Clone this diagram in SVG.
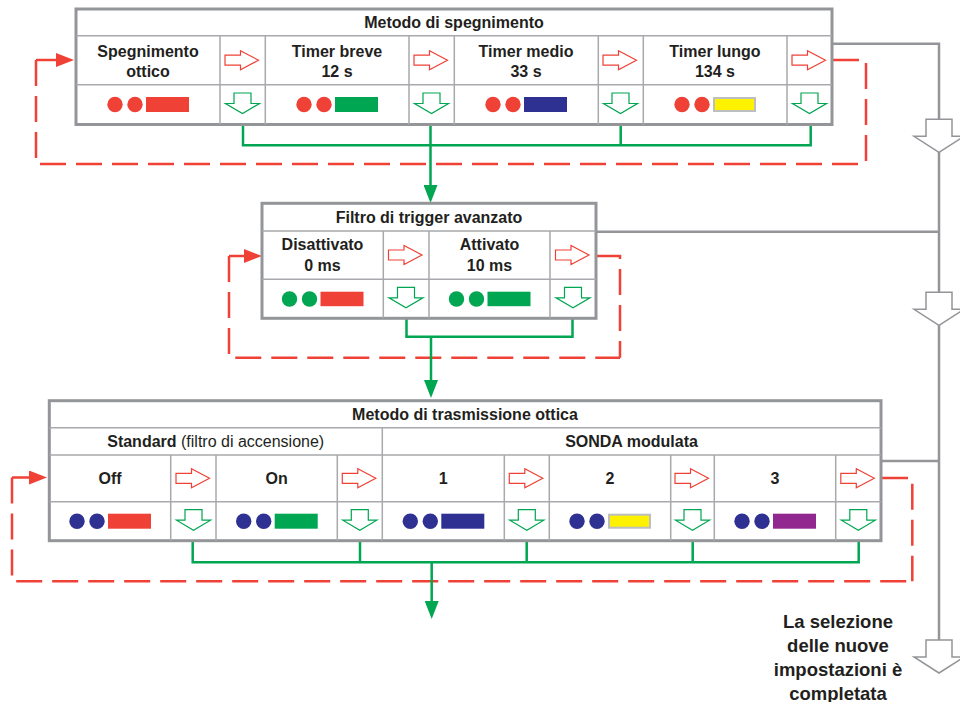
<svg xmlns="http://www.w3.org/2000/svg" width="960" height="702" viewBox="0 0 960 702">
<defs>
<marker id="ah-red" markerUnits="userSpaceOnUse" markerWidth="18" markerHeight="14" refX="4" refY="7" orient="auto"><path d="M0,0 L18,7 L0,14 Z" fill="#ef4136"/></marker>
<marker id="ah-green" markerUnits="userSpaceOnUse" markerWidth="18" markerHeight="14" refX="4" refY="7" orient="auto"><path d="M0,0 L18,7 L0,14 Z" fill="#00a651"/></marker>
<path id="ra" d="M-17.5,-5 H-2 V-9.5 L16,0 L-2,9.5 V5 H-17.5 Z"/>
<path id="da" d="M-8.5,-11.5 H8.5 V-1 H17 L0,9 L-17,-1 H-8.5 Z"/>
<path id="ga" d="M-13,0 H13 V17 H25 L0,33 L-25,17 H-13 Z"/>
</defs>
<style>
.frame{fill:#fff;stroke:#939598;stroke-width:3}
.grid{stroke:#a7a9ac;stroke-width:1.5;fill:none}
.t{font-family:"Liberation Sans",Arial,Helvetica,sans-serif;font-weight:bold;font-size:16px;fill:#231f20;text-anchor:middle}
.n{font-weight:normal}
.big{font-size:18.5px}
.rarr{fill:#fff;stroke:#ef4136;stroke-width:1.2}
.darr{fill:#fff;stroke:#00a651;stroke-width:1.2}
.garr{fill:#fff;stroke:#939598;stroke-width:1.5}
.gline{stroke:#939598;stroke-width:2.5;fill:none}
.green{stroke:#00a651;stroke-width:2.5;fill:none}
.red{stroke:#ef4136;stroke-width:2.5;fill:none}
.dash{stroke-dasharray:26 10}
.cr{fill:#ef4136}.cg{fill:#00a651}.cb{fill:#2e3192}.cp{fill:#92278f}
.cy{fill:#fff200;stroke:#bcbec0;stroke-width:2}
</style>

<!-- Connectors -->
<g id="connectors">
  <!-- gray completion path -->
  <path class="gline" d="M832,43.7 H939 V640"/>
  <path class="gline" d="M596,231.7 H939"/>
  <path class="gline" d="M881,461 H939"/>
  <use href="#ga" class="garr" x="939" y="119.3"/>
  <use href="#ga" class="garr" x="939" y="292.3"/>
  <use href="#ga" class="garr" x="939" y="640"/>
  <!-- top table loops -->
  <path class="red" d="M36,60 H60" marker-end="url(#ah-red)"/>
  <path class="red dash" d="M36,60 V164 H866"/>
  <path class="red dash" d="M833,60 H866 V164"/>
  <path class="green" d="M243,124.5 V145.3 H810.7 V124.5 M620.7,124.5 V145.3"/>
  <path class="green" d="M430.5,124.5 V189" marker-end="url(#ah-green)"/>
  <!-- filter loops -->
  <path class="red" d="M229,256 H248" marker-end="url(#ah-red)"/>
  <path class="red dash" d="M229,256 V357.7 H620"/>
  <path class="red dash" d="M597,256 H620 V357.7"/>
  <path class="green" d="M406.5,318.3 V336.7 H572.5 V318.3"/>
  <path class="green" d="M431,336.7 V384" marker-end="url(#ah-green)"/>
  <!-- bottom table loops -->
  <path class="red" d="M12,477.5 H33" marker-end="url(#ah-red)"/>
  <path class="red dash" d="M12,477.5 V581.3 H912.3"/>
  <path class="red dash" d="M882,478 H912.3 V581.3"/>
  <path class="green" d="M192.7,540.7 V562.3 H858.7 V540.7 M360,540.7 V562.3 M526.7,540.7 V562.3 M692.7,540.7 V562.3"/>
  <path class="green" d="M431.7,562.3 V605" marker-end="url(#ah-green)"/>
</g>

<!-- Table 1 -->
<g id="metodo-spegnimento">
  <rect class="frame" x="76" y="9" width="756" height="115.5"/>
  <path class="grid" d="M76,35.7 H832 M76,84.7 H832 M220,35.7 V124.5 M265.3,35.7 V124.5 M409,35.7 V124.5 M454.3,35.7 V124.5 M598.3,35.7 V124.5 M643.3,35.7 V124.5 M787,35.7 V124.5"/>
  <text class="t" x="454" y="28.3">Metodo di spegnimento</text>
  <g id="spegnimento-ottico">
    <text class="t" x="148" y="56.7">Spegnimento</text>
    <text class="t" x="148" y="76.9">ottico</text>
    <circle class="cr" cx="115" cy="104.5" r="7.7"/><circle class="cr" cx="135" cy="104.5" r="7.7"/>
    <rect class="cr" x="146" y="97" width="43" height="15"/>
  </g>
  <g id="timer-breve">
    <text class="t" x="337" y="56.7">Timer breve</text>
    <text class="t" x="337" y="76.9">12 s</text>
    <circle class="cr" cx="304" cy="104.5" r="7.7"/><circle class="cr" cx="324" cy="104.5" r="7.7"/>
    <rect class="cg" x="335" y="97" width="43" height="15"/>
  </g>
  <g id="timer-medio">
    <text class="t" x="526" y="56.7">Timer medio</text>
    <text class="t" x="526" y="76.9">33 s</text>
    <circle class="cr" cx="493" cy="104.5" r="7.7"/><circle class="cr" cx="513" cy="104.5" r="7.7"/>
    <rect class="cb" x="524" y="97" width="43" height="15"/>
  </g>
  <g id="timer-lungo">
    <text class="t" x="715" y="56.7">Timer lungo</text>
    <text class="t" x="715" y="76.9">134 s</text>
    <circle class="cr" cx="682" cy="104.5" r="7.7"/><circle class="cr" cx="702" cy="104.5" r="7.7"/>
    <rect class="cy" x="714" y="98" width="41" height="13"/>
  </g>
  <use href="#ra" class="rarr" x="242.5" y="60.2"/>
  <use href="#ra" class="rarr" x="431.5" y="60.2"/>
  <use href="#ra" class="rarr" x="620.5" y="60.2"/>
  <use href="#ra" class="rarr" x="809.5" y="60.2"/>
  <use href="#da" class="darr" x="242.5" y="104.5"/>
  <use href="#da" class="darr" x="431.5" y="104.5"/>
  <use href="#da" class="darr" x="620.5" y="104.5"/>
  <use href="#da" class="darr" x="809.5" y="104.5"/>
</g>

<!-- Table 2 -->
<g id="filtro-trigger">
  <rect class="frame" x="262" y="203.3" width="334" height="115"/>
  <path class="grid" d="M262,231 H596 M262,279.3 H596 M383.3,231 V318.3 M429,231 V318.3 M550,231 V318.3"/>
  <text class="t" x="429" y="223.3">Filtro di trigger avanzato</text>
  <g id="disattivato">
    <text class="t" x="322.5" y="250">Disattivato</text>
    <text class="t" x="322.5" y="270.7">0 ms</text>
    <circle class="cg" cx="289.5" cy="299" r="7.7"/><circle class="cg" cx="309.5" cy="299" r="7.7"/>
    <rect class="cr" x="320.5" y="291.7" width="43" height="14.5"/>
  </g>
  <g id="attivato">
    <text class="t" x="489.5" y="250">Attivato</text>
    <text class="t" x="489.5" y="270.7">10 ms</text>
    <circle class="cg" cx="456.5" cy="299" r="7.7"/><circle class="cg" cx="476.5" cy="299" r="7.7"/>
    <rect class="cg" x="487.5" y="291.7" width="43" height="14.5"/>
  </g>
  <use href="#ra" class="rarr" x="406" y="255"/>
  <use href="#ra" class="rarr" x="573" y="255"/>
  <use href="#da" class="darr" x="406" y="298.8"/>
  <use href="#da" class="darr" x="573" y="298.8"/>
</g>

<!-- Table 3 -->
<g id="metodo-trasmissione">
  <rect class="frame" x="49.3" y="400.7" width="831.7" height="140"/>
  <path class="grid" d="M49.3,427.7 H881 M49.3,455 H881 M49.3,501.7 H881 M382.3,427.7 V540.7 M170.7,455 V540.7 M216,455 V540.7 M337.3,455 V540.7 M504.3,455 V540.7 M549.3,455 V540.7 M670.7,455 V540.7 M714.3,455 V540.7 M835.7,455 V540.7"/>
  <text class="t" x="465" y="420">Metodo di trasmissione ottica</text>
  <text class="t" x="215.7" y="447.3">Standard <tspan class="n">(filtro di accensione)</tspan></text>
  <text class="t" x="631.5" y="447.3">SONDA modulata</text>
  <g id="off">
    <text class="t" x="110" y="484">Off</text>
    <circle class="cb" cx="77" cy="521.2" r="7.7"/><circle class="cb" cx="97" cy="521.2" r="7.7"/>
    <rect class="cr" x="108" y="513.7" width="43" height="15"/>
  </g>
  <g id="on">
    <text class="t" x="276.7" y="484">On</text>
    <circle class="cb" cx="243.7" cy="521.2" r="7.7"/><circle class="cb" cx="263.7" cy="521.2" r="7.7"/>
    <rect class="cg" x="274.7" y="513.7" width="43" height="15"/>
  </g>
  <g id="sonda-1">
    <text class="t" x="443.3" y="484">1</text>
    <circle class="cb" cx="410.3" cy="521.2" r="7.7"/><circle class="cb" cx="430.3" cy="521.2" r="7.7"/>
    <rect class="cb" x="441.3" y="513.7" width="43" height="15"/>
  </g>
  <g id="sonda-2">
    <text class="t" x="610" y="484">2</text>
    <circle class="cb" cx="577" cy="521.2" r="7.7"/><circle class="cb" cx="597" cy="521.2" r="7.7"/>
    <rect class="cy" x="609" y="514.7" width="41" height="13"/>
  </g>
  <g id="sonda-3">
    <text class="t" x="775" y="484">3</text>
    <circle class="cb" cx="742" cy="521.2" r="7.7"/><circle class="cb" cx="762" cy="521.2" r="7.7"/>
    <rect class="cp" x="773" y="513.7" width="43" height="15"/>
  </g>
  <use href="#ra" class="rarr" x="193.5" y="478.3"/>
  <use href="#ra" class="rarr" x="359.8" y="478.3"/>
  <use href="#ra" class="rarr" x="526.8" y="478.3"/>
  <use href="#ra" class="rarr" x="692.5" y="478.3"/>
  <use href="#ra" class="rarr" x="858.3" y="478.3"/>
  <use href="#da" class="darr" x="193.5" y="521.2"/>
  <use href="#da" class="darr" x="359.8" y="521.2"/>
  <use href="#da" class="darr" x="526.8" y="521.2"/>
  <use href="#da" class="darr" x="692.5" y="521.2"/>
  <use href="#da" class="darr" x="858.3" y="521.2"/>
</g>

<g id="completata">
  <text class="t big" x="838" y="627.5">La selezione</text>
  <text class="t big" x="838" y="651.5">delle nuove</text>
  <text class="t big" x="838" y="675.5">impostazioni è</text>
  <text class="t big" x="838" y="699.5">completata</text>
</g>
</svg>
